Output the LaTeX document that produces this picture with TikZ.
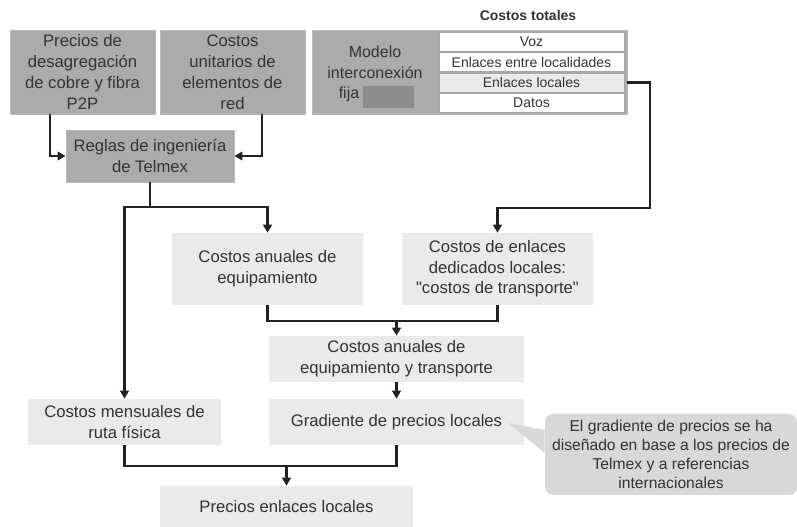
\documentclass[tikz,border=0pt]{standalone}
\usepackage{fontspec}
\setmainfont{Liberation Sans}
\usetikzlibrary{arrows.meta}
\definecolor{txtgray}{HTML}{333333}
\definecolor{darkbox}{HTML}{ABABAB}
\definecolor{lightbox}{HTML}{EAEAEA}
\definecolor{notebox}{HTML}{D8D8D8}
\definecolor{linegray}{HTML}{222222}
\tikzset{
	base/.style={inner sep=0pt, align=center, text=txtgray, font=\fontsize{12.5}{15.5}\selectfont},
	dark/.style={base, fill=darkbox, draw=darkbox!85!white, line width=0.6pt},
	light/.style={base, fill=lightbox},
	row/.style={base, fill=white, draw=gray!70, line width=0.5pt, minimum width=185*0.75pt, minimum height=19*0.75pt, font=\fontsize{10.5}{12}\selectfont},
	link/.style={draw=linegray, line width=2pt},
	arr/.style={link, -{Triangle[length=6pt,width=6.5pt]}},
}
\begin{document}
\begin{tikzpicture}[x=0.75pt, y=-0.75pt]
\useasboundingbox (0,0) rectangle (797,527);

% top row
\node[dark, minimum width=145*0.75pt, minimum height=84*0.75pt, font=\fontsize{12.5}{15.75}\selectfont](precios) at(82.5,72) {Precios de\\desagregación\\de cobre y fibra\\P2P};
\node[dark, minimum width=145*0.75pt, minimum height=84*0.75pt, font=\fontsize{12.5}{15.75}\selectfont](unitarios) at(232.5,72) {Costos\\unitarios de\\elementos de\\red};
\node[dark, minimum width=315*0.75pt, minimum height=84*0.75pt](modelo) at(469.5,72) {};
\node[base, font=\fontsize{12}{15.5}\selectfont](modelotxt) at(375,74) {Modelo\\interconexión\\fija\hspace*{39pt}};
\fill[gray!80!black!75] (363,86) rectangle (414,108);
\node[base, font=\bfseries\fontsize{10.5}{12}\selectfont](totales) at(528,16) {Costos totales};

\foreach \name/\y/\txt in {voz/42/Voz, entre/62/Enlaces entre localidades, locales/82.5/Enlaces locales, datos/103/Datos}{
	\node[row](\name) at(531.5,\y) {\txt};
}
\node[row, fill=lightbox](locales) at(531.5,82.5) {Enlaces locales};

% middle
\node[dark, minimum width=168*0.75pt, minimum height=52*0.75pt](reglas) at(150,156) {Reglas de ingeniería\\de Telmex};
\node[light, minimum width=191*0.75pt, minimum height=72*0.75pt](anual) at(267.5,269) {Costos anuales de\\equipamiento};
\node[light, minimum width=191*0.75pt, minimum height=72*0.75pt](transp) at(497.5,269) {Costos de enlaces\\dedicados locales:\\\textquotedbl costos de transporte\textquotedbl};
\node[light, minimum width=255*0.75pt, minimum height=46*0.75pt](anualtr) at(396.5,359) {Costos anuales de\\equipamiento y transporte};
\node[light, minimum width=255*0.75pt, minimum height=46*0.75pt](gradiente) at(396.5,422) {Gradiente de precios locales};
\node[light, minimum width=193*0.75pt, minimum height=46*0.75pt](mensual) at(124.5,422) {Costos mensuales de\\ruta física};
\node[light, minimum width=253*0.75pt, minimum height=41*0.75pt](enlaces) at(286.5,506.5) {Precios enlaces locales};

% note
\node[base, fill=notebox, rounded corners=6pt, minimum width=252*0.75pt, minimum height=81*0.75pt, font=\fontsize{11.75}{14.3}\selectfont](nota) at(671,454.5) {El gradiente de precios se ha\\diseñado en base a los precios de\\Telmex y a referencias\\internacionales};
\coordinate(tip) at(508,423);
\fill[notebox] (tip) -- (nota.west |- 0,430) -- (nota.west |- 0,453) -- cycle;

% connectors
\coordinate(split) at(150,207);
\coordinate(bend) at(650,208);
\coordinate(merge) at(396.5,321);
\coordinate(merge2) at(286.5,466);

\draw[arr] ([xshift=-24.4pt]precios.south) |- (reglas.west);
\draw[arr] ([xshift=22.1pt]unitarios.south) |- (reglas.east);
\draw[link] (reglas.south) -- (split);
\draw[arr] (split) -| (mensual.north);
\draw[arr] (split) -| (anual.north);
\draw[arr] (modelo.east |- locales.east) -| (bend) -| (transp.north);
\draw[link] (anual.south) |- (merge);
\draw[link] (transp.south) |- (merge);
\draw[arr] (merge) -- (anualtr.north);
\draw[arr] (anualtr.south) -- (gradiente.north);
\draw[link] (mensual.south) |- (merge2);
\draw[link] (gradiente.south) |- (merge2);
\draw[arr] (merge2) -- (enlaces.north);

\end{tikzpicture}
\end{document}
